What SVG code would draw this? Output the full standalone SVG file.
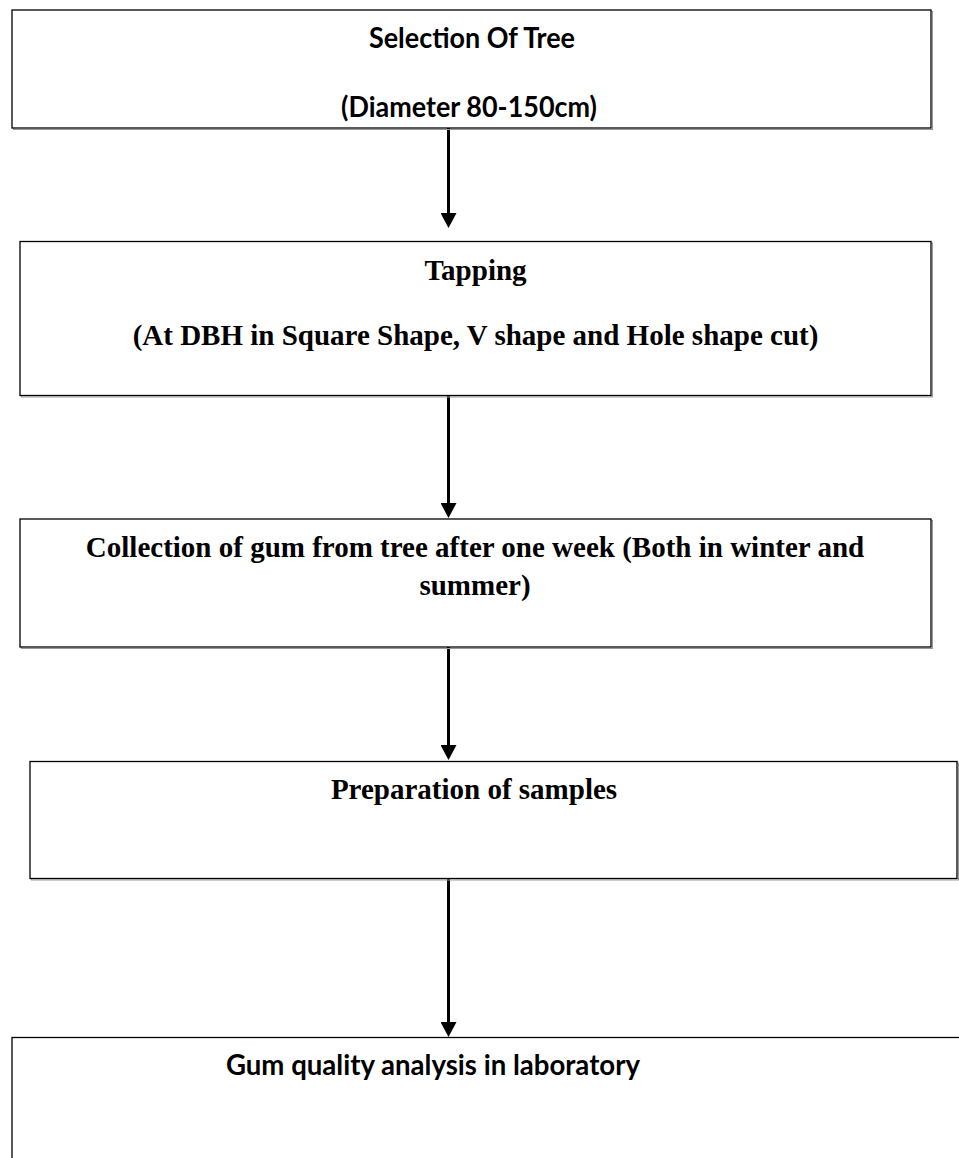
<svg xmlns="http://www.w3.org/2000/svg" width="959" height="1158" viewBox="0 0 959 1158">
<style>
.box{fill:#fff;stroke:#000;stroke-width:1.3}
.shadow{fill:none;stroke:#999;stroke-width:1}
.cal{font-family:Lato,"Open Sans","Liberation Sans",sans-serif;font-weight:bold;font-size:28px;fill:#000}
.tnr{font-family:"Liberation Serif","Times New Roman",serif;font-weight:bold;font-size:29px;fill:#000;text-anchor:middle}
.conn{stroke:#000;stroke-width:3;fill:none}
</style>
<defs>
<marker id="ah" markerUnits="userSpaceOnUse" viewBox="0 0 15 16" markerWidth="15" markerHeight="16" refX="1" refY="8" orient="auto">
<path d="M0,0 L15,8 L0,16 Z" fill="#000"/>
</marker>
</defs>
<rect width="959" height="1158" fill="#fff"/>
<g id="connectors">
<line class="conn" x1="448.5" y1="127" x2="448.5" y2="214" marker-end="url(#ah)"/>
<line class="conn" x1="448.5" y1="395.5" x2="448.5" y2="504" marker-end="url(#ah)"/>
<line class="conn" x1="448.5" y1="647" x2="448.5" y2="746" marker-end="url(#ah)"/>
<line class="conn" x1="448.5" y1="879" x2="448.5" y2="1023" marker-end="url(#ah)"/>
</g>
<g id="node-selection">
<rect class="shadow" x="13.5" y="11.5" width="919" height="118"/>
<rect class="box" x="12" y="10" width="919" height="118"/>
<text class="cal" x="369" y="48" textLength="206" lengthAdjust="spacingAndGlyphs">Selection Of Tree</text>
<text class="cal" x="341" y="117" textLength="256" lengthAdjust="spacingAndGlyphs">(Diameter 80-150cm)</text>
</g>
<g id="node-tapping">
<rect class="shadow" x="21.5" y="243" width="911" height="154"/>
<rect class="box" x="20" y="241.5" width="911" height="154"/>
<text class="tnr" x="475.5" y="280">Tapping</text>
<text class="tnr" x="475.5" y="345">(At DBH in Square Shape, V shape and Hole shape cut)</text>
</g>
<g id="node-collection">
<rect class="shadow" x="21.5" y="520.5" width="911" height="128"/>
<rect class="box" x="20" y="519" width="911" height="128"/>
<text class="tnr" x="475" y="557">Collection of gum from tree after one week (Both in winter and</text>
<text class="tnr" x="475" y="595">summer)</text>
</g>
<g id="node-preparation">
<rect class="shadow" x="31.5" y="763" width="927" height="117"/>
<rect class="box" x="30" y="761.5" width="927" height="117"/>
<text class="tnr" x="474" y="799">Preparation of samples</text>
</g>
<g id="node-analysis">
<rect class="shadow" x="13.5" y="1039" width="960" height="200"/>
<rect class="box" x="12" y="1037.5" width="960" height="200"/>
<text class="cal" x="226" y="1075" textLength="414" lengthAdjust="spacingAndGlyphs">Gum quality analysis in laboratory</text>
</g>
</svg>
